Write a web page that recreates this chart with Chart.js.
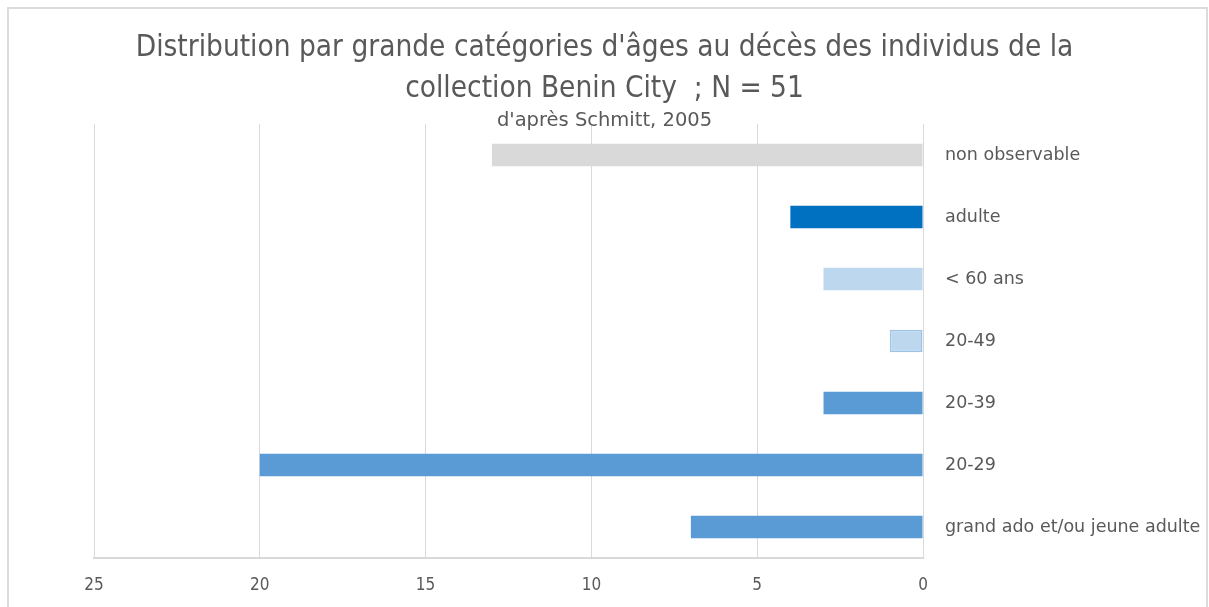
<!DOCTYPE html>
<html lang="fr">
<head>
<meta charset="utf-8">
<script src="https://cdn.jsdelivr.net/npm/chart.js@4/dist/chart.umd.min.js"></script>
<style>
  html, body { margin: 0; padding: 0; background: #ffffff; }
  #wrap { position: relative; width: 1209px; height: 607px; overflow: hidden; }
  #frame { position: absolute; left: 7px; top: 7px; width: 1201px; height: 700px;
           border: 2px solid #dcdcdc; box-sizing: border-box; }
  canvas { position: absolute; left: 0; top: 0; }
</style>
</head>
<body>
<div id="wrap">
  <div id="frame"></div>
  <canvas id="ageChart" width="1209" height="607"></canvas>
</div>
<script>
// Catégories d'âge (de haut en bas) et effectifs
const categories = [
  "non observable",
  "adulte",
  "< 60 ans",
  "20-49",
  "20-39",
  "20-29",
  "grand ado et/ou jeune adulte",
];
const counts = [13, 4, 3, 1, 3, 20, 7];
const barColors = ["#d9d9d9", "#0070c0", "#bdd7ee", "#bdd7ee", "#5b9bd5", "#5b9bd5", "#5b9bd5"];
const barBorders = ["#d9d9d9", "#0070c0", "#bdd7ee", "#9dc3e6", "#5b9bd5", "#5b9bd5", "#5b9bd5"];
const barBorderWidths = [0, 0, 0, 1.5, 0, 0, 0];
const titleLines = [
  "Distribution par grande catégories d'âges au décès des individus de la",
  "collection Benin City  ; N = 51",
];
const subtitleText = "d'après Schmitt, 2005";

const textColor = "#595959";
const gridColor = "#d9d9d9";
const narrowFont = "'Liberation Sans Narrow', 'DejaVu Sans Condensed', sans-serif";
const labelFont = "'DejaVu Sans', 'Open Sans', sans-serif";

const chartConfig = {
  type: "bar",
  data: {
    labels: categories,
    datasets: [{
      data: counts,
      backgroundColor: barColors,
      borderColor: barBorders,
      borderWidth: barBorderWidths,
      borderSkipped: false,
      barPercentage: 0.36,
      categoryPercentage: 1,
    }],
  },
  options: {
    indexAxis: "y",
    responsive: false,
    animation: false,
    layout: { padding: { top: 0, right: 0, bottom: 0, left: 0 } },
    plugins: {
      legend: { display: false },
      tooltip: { enabled: false },
      title: {
        display: true,
        text: titleLines,
        color: textColor,
        font: { family: narrowFont, size: 29.5, weight: "normal", lineHeight: 1.39 },
        padding: { top: 28, bottom: 0 },
      },
      subtitle: {
        display: true,
        text: subtitleText,
        color: textColor,
        font: { family: labelFont, size: 19.5, weight: "normal", lineHeight: 1.0 },
        padding: { top: 1, bottom: -6.5 },
      },
    },
    scales: {
      x: {
        reverse: true,
        min: 0,
        max: 25,
        ticks: {
          stepSize: 5,
          color: textColor,
          font: { family: narrowFont, size: 17 },
          padding: 17,
        },
        grid: { color: gridColor, lineWidth: 1, drawTicks: false },
        border: { color: gridColor, width: 2 },
        afterFit: (scale) => { scale.height = 49; },
      },
      y: {
        position: "right",
        ticks: {
          color: textColor,
          font: { family: labelFont, size: 17.5 },
          padding: 22,
          crossAlign: "near",
        },
        grid: { display: false, drawTicks: false },
        border: { display: false },
        afterFit: (scale) => { scale.width = 286; },
      },
      // Axe vide à gauche pour réserver la marge sans décentrer le titre
      yLeft: {
        position: "left",
        type: "category",
        ticks: { display: false },
        grid: { display: false, drawTicks: false },
        border: { display: false },
        afterFit: (scale) => { scale.width = 94; },
      },
    },
  },
};

new Chart(document.getElementById("ageChart"), chartConfig);
</script>
</body>
</html>
